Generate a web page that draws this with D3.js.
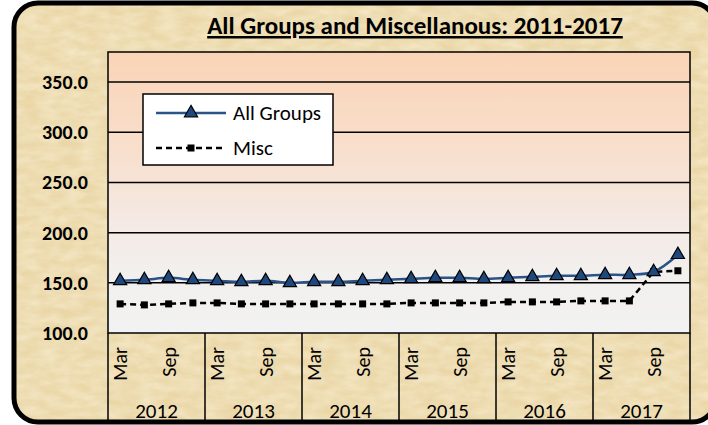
<!DOCTYPE html>
<html>
<head>
<meta charset="utf-8">
<script src="https://cdn.jsdelivr.net/npm/d3@7"></script>
<style>
  html, body { margin: 0; padding: 0; background: #ffffff; }
  svg { display: block; }
</style>
</head>
<body>
<svg id="chart" width="708" height="425"></svg>
<script>
// ---- data ----
const years = [2012, 2013, 2014, 2015, 2016, 2017];
const quarterMonths = ["Mar", "Jun", "Sep", "Dec"];
const allGroups = [152, 153, 155, 153, 152, 151, 152, 150, 151, 151, 152, 153,
                   154, 155, 155, 154, 155, 156, 157, 157, 158, 158, 161, 178];
const misc = [129, 128, 129, 130, 130, 129, 129, 129, 129, 129, 129, 129,
              130, 130, 130, 130, 131, 131, 131, 132, 132, 132, 161, 162];
const yTicks = [100, 150, 200, 250, 300, 350];
const titleText = "All Groups and Miscellanous: 2011-2017";
const seriesNames = ["All Groups", "Misc"];

const categories = [];
years.forEach(yr => quarterMonths.forEach(m => categories.push({ year: yr, month: m })));

// ---- layout ----
const plot = { left: 108, top: 52, right: 690, bottom: 333 };
const FONT = "Carlito, Lato, 'Open Sans', sans-serif";

const svg = d3.select("#chart");
const defs = svg.append("defs");

// parchment texture
const tex = defs.append("filter").attr("id", "paper").attr("x", 0).attr("y", 0).attr("width", 1).attr("height", 1);
tex.append("feTurbulence").attr("type", "fractalNoise").attr("baseFrequency", "0.05 0.12").attr("numOctaves", 3).attr("seed", 4).attr("result", "noise");
tex.append("feColorMatrix").attr("in", "noise").attr("type", "matrix")
   .attr("values", "0 0 0 0 0.96  0 0 0 0 0.89  0 0 0 0 0.70  0 0 0 -0.9 0.7").attr("result", "tint");
tex.append("feComposite").attr("in", "tint").attr("in2", "SourceGraphic").attr("operator", "in");

const grad = defs.append("linearGradient").attr("id", "plotGrad")
  .attr("x1", 0).attr("y1", 0).attr("x2", 0).attr("y2", 1);
[[0, "#FAD4B6"], [0.35, "#F8DFCD"], [0.62, "#F4EAE5"], [0.8, "#F2F0EE"], [1, "#F2F2F2"]]
  .forEach(([o, c]) => grad.append("stop").attr("offset", o).attr("stop-color", c));

// outer frame
const frame = { x: 14, y: 3, w: 702, h: 419, r: 24 };
["#EAD6A6", "url-tex", "stroke"].forEach(kind => {
  const r = svg.append("rect").attr("x", frame.x).attr("y", frame.y)
    .attr("width", frame.w).attr("height", frame.h).attr("rx", frame.r);
  if (kind === "url-tex") r.attr("fill", "#EAD6A6").attr("filter", "url(#paper)");
  else if (kind === "stroke") r.attr("fill", "none").attr("stroke", "#000").attr("stroke-width", 5);
  else r.attr("fill", kind);
});

// scales
const x = d3.scaleBand().domain(d3.range(categories.length)).range([plot.left, plot.right]).padding(0);
const y = d3.scaleLinear().domain([100, 380]).range([plot.bottom, plot.top]);
const cx = i => x(i) + x.bandwidth() / 2;

// plot area
svg.append("rect").attr("x", plot.left).attr("y", plot.top)
  .attr("width", plot.right - plot.left).attr("height", plot.bottom - plot.top)
  .attr("fill", "url(#plotGrad)");

// gridlines
svg.append("g").selectAll("line").data(yTicks.filter(t => t > 100)).join("line")
  .attr("x1", plot.left).attr("x2", plot.right)
  .attr("y1", d => y(d)).attr("y2", d => y(d))
  .attr("stroke", "#000").attr("stroke-width", 1.5);

// plot border
svg.append("rect").attr("x", plot.left).attr("y", plot.top)
  .attr("width", plot.right - plot.left).attr("height", plot.bottom - plot.top)
  .attr("fill", "none").attr("stroke", "#000").attr("stroke-width", 1.5);

// y axis
const yAxis = svg.append("g").attr("transform", `translate(${plot.left},0)`)
  .call(d3.axisLeft(y).tickValues(yTicks).tickFormat(d3.format(".1f")).tickSize(0).tickPadding(20));
yAxis.select(".domain").remove();
yAxis.selectAll("text").attr("font-family", FONT).attr("font-size", 20).attr("font-weight", "bold").attr("fill", "#000");

// x axis: month labels (every second)
const xAxis = svg.append("g").attr("transform", `translate(0,${plot.bottom})`)
  .call(d3.axisBottom(x).tickValues(d3.range(0, categories.length, 2))
    .tickFormat(i => categories[i].month).tickSize(0));
xAxis.select(".domain").remove();
xAxis.selectAll("text")
  .attr("font-family", FONT).attr("font-size", 20).attr("fill", "#000")
  .attr("text-anchor", "end").attr("dy", "0.35em").attr("y", 0)
  .attr("transform", "translate(0,14) rotate(-90)");

// year separators and labels
const yearBounds = years.map((yr, k) => ({ yr, start: x(k * 4), end: x(k * 4 + 3) + x.bandwidth() }));
svg.append("g").selectAll("line").data([plot.left].concat(yearBounds.map(d => d.end))).join("line")
  .attr("x1", d => d).attr("x2", d => d).attr("y1", plot.bottom).attr("y2", 422)
  .attr("stroke", "#000").attr("stroke-width", 1.5);
svg.append("g").selectAll("text").data(yearBounds).join("text")
  .attr("x", d => (d.start + d.end) / 2).attr("y", 418)
  .attr("text-anchor", "middle").attr("font-family", FONT).attr("font-size", 21).attr("fill", "#000")
  .text(d => d.yr);

// series lines
const lineAll = d3.line().x((d, i) => cx(i)).y(d => y(d)).curve(d3.curveCatmullRom.alpha(0.5));
const lineMisc = d3.line().x((d, i) => cx(i)).y(d => y(d));

svg.append("path").datum(misc).attr("d", lineMisc)
  .attr("fill", "none").attr("stroke", "#000").attr("stroke-width", 2.5).attr("stroke-dasharray", "6,4");
svg.append("g").selectAll("rect").data(misc).join("rect")
  .attr("x", (d, i) => cx(i) - 3.5).attr("y", d => y(d) - 3.5).attr("width", 7).attr("height", 7)
  .attr("fill", "#000");

svg.append("path").datum(allGroups).attr("d", lineAll)
  .attr("fill", "none").attr("stroke", "#2A5488").attr("stroke-width", 2.5);
const tri = d3.symbol().type(d3.symbolTriangle).size(75);
svg.append("g").selectAll("path").data(allGroups).join("path")
  .attr("d", tri).attr("transform", (d, i) => `translate(${cx(i)},${y(d)})`)
  .attr("fill", "#1F497D").attr("stroke", "#000").attr("stroke-width", 1.2);

// legend
const lg = svg.append("g");
lg.append("rect").attr("x", 143).attr("y", 94).attr("width", 190).attr("height", 71)
  .attr("fill", "#fff").attr("stroke", "#000").attr("stroke-width", 1.5);
lg.append("line").attr("x1", 156).attr("x2", 226).attr("y1", 113).attr("y2", 113)
  .attr("stroke", "#2A5488").attr("stroke-width", 2.5);
lg.append("path").attr("d", tri).attr("transform", "translate(191,113)")
  .attr("fill", "#1F497D").attr("stroke", "#000").attr("stroke-width", 1.2);
lg.append("line").attr("x1", 156).attr("x2", 226).attr("y1", 148).attr("y2", 148)
  .attr("stroke", "#000").attr("stroke-width", 2.5).attr("stroke-dasharray", "6,4");
lg.append("rect").attr("x", 187.5).attr("y", 144.5).attr("width", 7).attr("height", 7).attr("fill", "#000");
lg.selectAll("text").data(seriesNames).join("text")
  .attr("x", 233).attr("y", (d, i) => 113 + i * 35).attr("dy", "0.35em")
  .attr("font-family", FONT).attr("font-size", 21).attr("fill", "#000").text(d => d);

// title
svg.append("text").attr("x", 415).attr("y", 34).attr("text-anchor", "middle")
  .attr("font-family", FONT).attr("font-size", 25).attr("font-weight", "bold")
  .attr("text-decoration", "underline").attr("fill", "#000").text(titleText);
</script>
</body>
</html>
